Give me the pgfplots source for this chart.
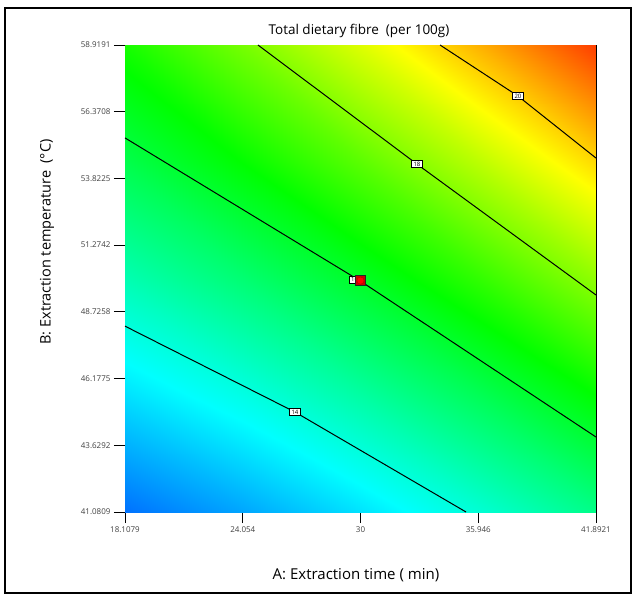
\documentclass[border=0pt]{standalone}
\usepackage{pgfplots}
\usepackage{fontspec}
\setmainfont{Open Sans}
\pgfplotsset{compat=1.18}

% response surface (x = time, y = temperature, z = fibre)
\pgfplotstableread{
x        y        z
18.1079  41.0809  12.00
24.054   41.0809  12.60
30       41.0809  13.30
35.946   41.0809  14.10
41.8921  41.0809  15.00
18.1079  45.5405  13.28
24.054   45.5405  13.92
30       45.5405  14.68
35.946   45.5405  15.56
41.8921  45.5405  16.56
18.1079  50       14.50
24.054   50       15.24
30       50       16.10
35.946   50       17.09
41.8921  50       18.20
18.1079  54.4596  15.68
24.054   54.4596  16.57
30       54.4596  17.58
35.946   54.4596  18.69
41.8921  54.4596  19.91
18.1079  58.9191  16.80
24.054   58.9191  17.91
30       58.9191  19.10
35.946   58.9191  20.36
41.8921  58.9191  21.70
}\fibre

\begin{document}
\begin{tikzpicture}
\begin{axis}[
    name=ax,
    at={(0,0)}, anchor=south west,
    scale only axis,
    width=471pt, height=467pt,
    xmin=18.1079, xmax=41.8921,
    ymin=41.0809, ymax=58.9191,
    xtick={18.1079,24.054,30,35.946,41.8921},
    xticklabels={18.1079,24.054,30,35.946,41.8921},
    ytick={41.0809,43.6292,46.1775,48.7258,51.2742,53.8225,56.3708,58.9191},
    yticklabels={41.0809,43.6292,46.1775,48.7258,51.2742,53.8225,56.3708,58.9191},
    tick align=outside,
    xtick pos=left, ytick pos=left,
    major tick length=11pt,
    tick style={black, line width=0.8pt},
    ticklabel style={font=\fontsize{8}{9}\selectfont, text=black!75},
    axis line style={black, line width=0.8pt},
    colormap={de}{rgb255=(0,0,255) rgb255=(0,255,255) rgb255=(0,255,0) rgb255=(255,255,0) rgb255=(255,0,0)},
    point meta min=10.7, point meta max=22.4,
    clip=true,
]
\addplot[surf, shader=interp, mesh/cols=5, point meta=explicit]
    table[x=x, y=y, meta=z] {\fibre};

% contour lines
\addplot[black, line width=1pt] coordinates {(18.1079,48.18) (26.69,44.90) (35.33,41.0809)};
\addplot[black, line width=1pt] coordinates {(18.1079,55.37) (30,49.90) (41.8921,43.945)};
\addplot[black, line width=1pt] coordinates {(24.82,58.9191) (32.85,54.37) (41.8921,49.37)};
\addplot[black, line width=1pt] coordinates {(34.016,58.9191) (37.95,56.97) (41.8921,54.60)};

\tikzset{clab/.style={draw=black, line width=0.9pt, fill=white, inner xsep=2pt, inner ysep=1.5pt,
    font=\fontsize{6}{6}\selectfont}}
\node[clab] at (axis cs:26.69,44.90) {14};
\node[clab] at (axis cs:29.7,49.95) {16};
\node[clab] at (axis cs:32.85,54.37) {18};
\node[clab] at (axis cs:37.95,56.97) {20};

% design point
\addplot[only marks, mark=square*, mark size=5pt, mark options={fill=red!80!black, draw=black!85, line width=1pt}]
    coordinates {(30,49.92)};
\addplot[only marks, mark=*, mark size=3.6pt, mark options={fill=red, draw=red!70!black}]
    coordinates {(30,49.92)};
\end{axis}

\begin{scope}[shift={(ax.south west)}]
\path (-125pt,-88pt) rectangle (512pt,512pt);
\draw[line width=1.6pt] (-120pt,-81pt) rectangle (506pt,504pt);
\node[font=\fontsize{13.5}{15}\selectfont] at (234pt,481pt) {Total dietary fibre\ \ (per 100g)};
\node[font=\fontsize{15}{17}\selectfont] at (231pt,-63pt) {A: Extraction time ( min)};
\node[font=\fontsize{14.5}{17}\selectfont, rotate=90] at (-78pt,270pt) {B: Extraction temperature\ \ (°C)};
\end{scope}
\end{tikzpicture}
\end{document}
